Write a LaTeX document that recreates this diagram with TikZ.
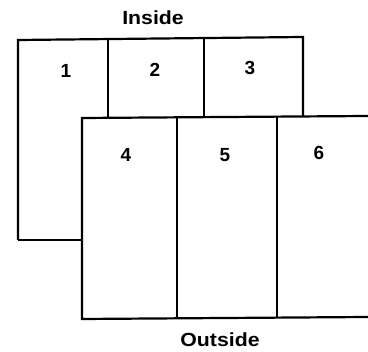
\documentclass[tikz,border=0pt]{standalone}
\usepackage{fontspec}
\setmainfont{Liberation Sans}
\begin{document}
\begin{tikzpicture}[x=1pt,y=-1pt,line width=2.2pt,
  lbl/.style={font=\fontsize{19}{21}\selectfont\bfseries, inner sep=0pt},
  wlbl/.style={lbl, xscale=1.12}]
\useasboundingbox (0,0) rectangle (368,352);
% inner panels
\draw (18,240) -- (18,40) coordinate (tl) -- (303,37) -- (303,117);
\draw (82,240) coordinate (c1) -- (18,240);
\draw (108,40) -- (108,117);
\draw (204,39) -- (204,117);
% outer panels
\draw (368,116) -- (82,118) -- (82,319) -- (368,317);
\draw (177,118) -- (177,318);
\draw (277,117) -- (277,318);
% labels
\node[wlbl] (ins) at (153,18) {Inside};
\node[wlbl] (outs) at (220,340) {Outside};
\node[lbl] (n1) at (66,71) {1};
\node[lbl] (n2) at (155,70) {2};
\node[lbl] (n3) at (250,68) {3};
\node[lbl] (n4) at (126,155) {4};
\node[lbl] (n5) at (225,155) {5};
\node[lbl] (n6) at (319,153) {6};
\end{tikzpicture}
\end{document}
